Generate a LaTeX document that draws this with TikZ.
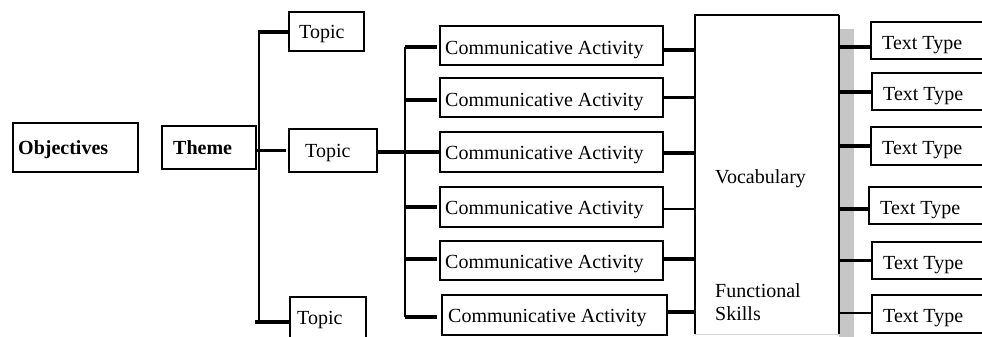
\documentclass[tikz,border=0pt]{standalone}
\usepackage{fontspec}
\setmainfont{Liberation Serif}
\begin{document}
\begin{tikzpicture}[x=1pt,y=-1pt,
  box/.style={draw,line width=1.8pt,anchor=north west,inner sep=0pt,outer sep=0pt},
  lbl/.style={anchor=base west,inner sep=0pt,font=\fontsize{20}{22}\selectfont},
  thk/.style={line width=3.2pt},
  thn/.style={line width=2.3pt},
  trunk/.style={line width=2pt}]
\useasboundingbox (0,0) rectangle (982,337);
\clip (0,0) rectangle (982,337);
% boxes
\node[box,minimum width=125pt,minimum height=49pt] (obj) at (13,123) {};
\node[box,minimum width=94pt,minimum height=43pt] (theme) at (162,126) {};
\node[box,minimum width=75pt,minimum height=39pt] (topic1) at (289,12) {};
\node[box,minimum width=88pt,minimum height=43pt] (topic2) at (289,129) {};
\node[box,minimum width=76pt,minimum height=53pt] (topic3) at (290,297) {};
\node[box,minimum width=223pt,minimum height=39pt] (ca1) at (440,26) {};
\node[box,minimum width=223pt,minimum height=39pt] (ca2) at (440,78) {};
\node[box,minimum width=223pt,minimum height=40pt] (ca3) at (440,132) {};
\node[box,minimum width=223pt,minimum height=40pt] (ca4) at (440,187) {};
\node[box,minimum width=223pt,minimum height=39pt] (ca5) at (440,241) {};
\node[box,minimum width=225pt,minimum height=40pt] (ca6) at (442,295) {};
\fill[gray!45] (839,29) rectangle (854,337);
\node[anchor=north west,inner sep=0pt,outer sep=0pt,minimum width=144pt,minimum height=319pt] (vocab) at (695,15) {};
\draw[line width=1.2pt] (vocab.south west) -- (vocab.north west) -- (vocab.north east);
\draw[line width=2.8pt] (vocab.north east) -- (vocab.south east);
\draw[gray!35,line width=0.8pt] (vocab.south west) -- (vocab.south east);
\node[box,minimum width=130pt,minimum height=37pt] (tt1) at (871,22) {};
\node[box,minimum width=130pt,minimum height=37pt] (tt2) at (872,73) {};
\node[box,minimum width=130pt,minimum height=38pt] (tt3) at (871,127) {};
\node[box,minimum width=130pt,minimum height=37pt] (tt4) at (869,187) {};
\node[box,minimum width=130pt,minimum height=37pt] (tt5) at (872,242) {};
\node[box,minimum width=130pt,minimum height=38pt] (tt6) at (872,295) {};
% labels
\node[lbl,font=\fontsize{20}{22}\selectfont\bfseries] (lobj) at (18,154) {Objectives};
\node[lbl,font=\fontsize{20}{22}\selectfont\bfseries] (ltheme) at (173,154) {Theme};
\node[lbl] (lt1) at (299,38) {Topic};
\node[lbl] (lt2) at (305,157) {Topic};
\node[lbl] (lt3) at (297,324) {Topic};
\node[lbl] (lca1) at (445,55) {Communicative Activity};
\node[lbl] (lca2) at (445,106) {Communicative Activity};
\node[lbl] (lca3) at (445,159) {Communicative Activity};
\node[lbl] (lca4) at (445,214) {Communicative Activity};
\node[lbl] (lca5) at (445,268) {Communicative Activity};
\node[lbl] (lca6) at (448,322) {Communicative Activity};
\node[lbl] (lvoc) at (715,183) {Vocabulary};
\node[lbl] (lfun) at (715,297) {Functional};
\node[lbl] (lski) at (715,320) {Skills};
\node[lbl] (ltt1) at (882,50) {Text Type};
\node[lbl] (ltt2) at (883,100) {Text Type};
\node[lbl] (ltt3) at (882,154) {Text Type};
\node[lbl] (ltt4) at (880,214) {Text Type};
\node[lbl] (ltt5) at (883,269) {Text Type};
\node[lbl] (ltt6) at (883,322) {Text Type};
% theme to topics
\coordinate (ta) at (259,32);
\coordinate (tb) at (259,322);
\draw[trunk] (ta) -- (tb);
\draw[thn,shorten >=3pt] (theme.east |- topic2.west) -- (topic2.west);
\draw[thk] ([xshift=-1pt]ta) -- (ta -| topic1.west);
\draw[thk] ([xshift=-4pt]tb) -- (tb -| topic3.west);
% topic to activities
\coordinate (ca) at (405,47);
\coordinate (cb) at (405,317);
\draw[trunk] (ca) -- (cb);
\draw[thk] (topic2.east |- ca3.west) -- (ca3.west);
\draw[thk,shorten >=3pt] ([yshift=-1.5pt]ca1.west -| ca) -- ([yshift=-1.5pt]ca1.west);
\draw[thk,shorten >=3pt] ([yshift=-2.5pt]ca2.west -| ca) -- ([yshift=-2.5pt]ca2.west);
\draw[thk,shorten >=3pt] (ca4.west -| ca) -- (ca4.west);
\draw[thk,shorten >=3pt] ([yshift=1.5pt]ca5.west -| ca) -- ([yshift=1.5pt]ca5.west);
\draw[thk,shorten >=5pt] (cb) -- (cb -| ca6.west);
% activities to vocabulary
\draw[thk] ([yshift=-4.5pt]ca1.east) -- ([yshift=-4.5pt]ca1.east -| vocab.west);
\draw[thn] (ca2.east) -- (ca2.east -| vocab.west);
\draw[thk] ([yshift=-1pt]ca3.east) -- ([yshift=-1pt]ca3.east -| vocab.west);
\draw[thn] ([yshift=-2pt]ca4.east) -- ([yshift=-2pt]ca4.east -| vocab.west);
\draw[thk] ([yshift=1.5pt]ca5.east) -- ([yshift=1.5pt]ca5.east -| vocab.west);
\draw[thk] ([yshift=3pt]ca6.east) -- ([yshift=3pt]ca6.east -| vocab.west);
% vocabulary to text types
\draw[thk] ([yshift=-6.5pt]tt1.west -| vocab.east) -- ([yshift=-6.5pt]tt1.west);
\draw[thk] ([yshift=-0.5pt]tt2.west -| vocab.east) -- ([yshift=-0.5pt]tt2.west);
\draw[thk] (tt3.west -| vocab.east) -- (tt3.west);
\draw[thk] ([yshift=-3.5pt]tt4.west -| vocab.east) -- ([yshift=-3.5pt]tt4.west);
\draw[thk] (tt5.west -| vocab.east) -- (tt5.west);
\draw[thn] ([yshift=1pt]tt6.west -| vocab.east) -- ([yshift=1pt]tt6.west);
\end{tikzpicture}
\end{document}
